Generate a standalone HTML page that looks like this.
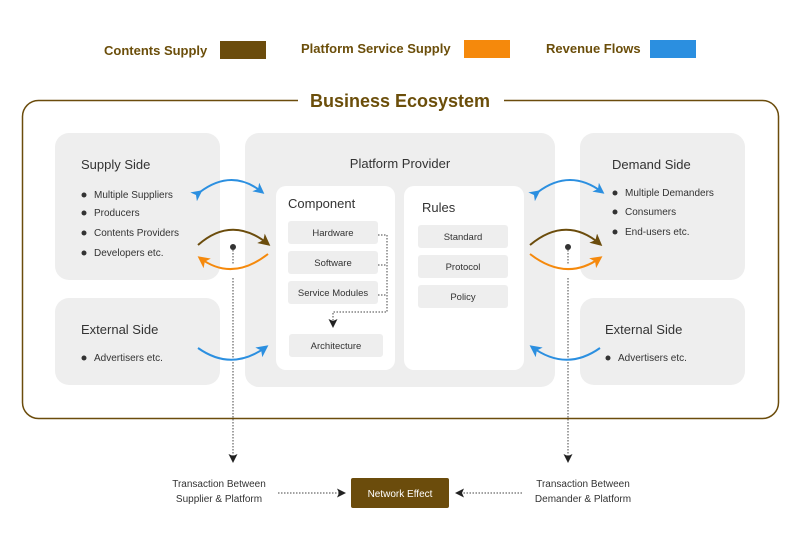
<!DOCTYPE html>
<html><head><style>
body{margin:0;background:#fff}
svg text{font-family:"Liberation Sans",sans-serif}
</style></head><body>
<svg width="800" height="542" xmlns="http://www.w3.org/2000/svg">
<defs>
<marker id="ab" markerWidth="11" markerHeight="11" refX="8" refY="5.5" orient="auto" markerUnits="userSpaceOnUse"><path d="M0,0 L11,5.5 L0,11 L3,5.5z" fill="#2b8fe0"/></marker>
<marker id="ao" markerWidth="12" markerHeight="12" refX="9" refY="6" orient="auto" markerUnits="userSpaceOnUse"><path d="M0,0 L12,6 L0,12 L3,6z" fill="#f5890c"/></marker>
<marker id="abr" markerWidth="12" markerHeight="12" refX="9" refY="6" orient="auto" markerUnits="userSpaceOnUse"><path d="M0,0 L12,6 L0,12 L3,6z" fill="#6b4c0c"/></marker>
<marker id="abl" markerWidth="12" markerHeight="12" refX="9" refY="6" orient="auto" markerUnits="userSpaceOnUse"><path d="M0,0 L12,6 L0,12 L3,6z" fill="#2b8fe0"/></marker>
<marker id="ak" markerWidth="9" markerHeight="9" refX="7" refY="4.5" orient="auto" markerUnits="userSpaceOnUse"><path d="M0,0 L9,4.5 L0,9 L2,4.5z" fill="#222"/></marker>
</defs>
<g font-size="13" fill="#6b4e0a" font-weight="600">
<text x="104" y="55">Contents Supply</text>
<text x="301" y="53">Platform Service Supply</text>
<text x="546" y="53">Revenue Flows</text>
</g>
<rect x="220" y="41" width="46" height="18" fill="#6b4c0c"/>
<rect x="464" y="40" width="46" height="18" fill="#f5890c"/>
<rect x="650" y="40" width="46" height="18" fill="#2b8fe0"/>
<rect x="22.5" y="100.5" width="756" height="318" rx="16" fill="none" stroke="#6b4c0c" stroke-width="1.5"/>
<rect x="298" y="90" width="206" height="22" fill="#fff"/>
<text x="400" y="107" font-size="18" font-weight="600" fill="#6b4e0a" text-anchor="middle">Business Ecosystem</text>
<g fill="#eeeeee">
<rect x="55" y="133" width="165" height="147" rx="14"/>
<rect x="55" y="298" width="165" height="87" rx="14"/>
<rect x="245" y="133" width="310" height="254" rx="14"/>
<rect x="580" y="133" width="165" height="147" rx="14"/>
<rect x="580" y="298" width="165" height="87" rx="14"/>
</g>
<g fill="#fff"><rect x="276" y="186" width="119" height="184" rx="10"/><rect x="404" y="186" width="120" height="184" rx="10"/></g>
<g font-size="13" fill="#333">
<text x="81" y="169">Supply Side</text>
<text x="81" y="334">External Side</text>
<text x="400" y="168" text-anchor="middle">Platform Provider</text>
<text x="612" y="169">Demand Side</text>
<text x="605" y="334">External Side</text>
<text x="288" y="208">Component</text>
<text x="422" y="212">Rules</text>
</g>
<g font-size="10" fill="#333">
<circle cx="84" cy="195" r="2.5"/><text x="94" y="198">Multiple Suppliers</text>
<circle cx="84" cy="213" r="2.5"/><text x="94" y="216">Producers</text>
<circle cx="84" cy="233" r="2.5"/><text x="94" y="236">Contents Providers</text>
<circle cx="84" cy="253" r="2.5"/><text x="94" y="256">Developers etc.</text>
<circle cx="84" cy="358" r="2.5"/><text x="94" y="361">Advertisers etc.</text>
<circle cx="615" cy="193" r="2.5"/><text x="625" y="196">Multiple Demanders</text>
<circle cx="615" cy="212" r="2.5"/><text x="625" y="215">Consumers</text>
<circle cx="615" cy="232" r="2.5"/><text x="625" y="235">End-users etc.</text>
<circle cx="608" cy="358" r="2.5"/><text x="618" y="361">Advertisers etc.</text>
</g>
<g fill="#eeeeee">
<rect x="288" y="221" width="90" height="23" rx="3"/><rect x="288" y="251" width="90" height="23" rx="3"/><rect x="288" y="281" width="90" height="23" rx="3"/>
<rect x="289" y="334" width="94" height="23" rx="3"/>
<rect x="418" y="225" width="90" height="23" rx="3"/><rect x="418" y="255" width="90" height="23" rx="3"/><rect x="418" y="285" width="90" height="23" rx="3"/>
</g>
<g font-size="9.5" fill="#333" text-anchor="middle">
<text x="333" y="236">Hardware</text><text x="333" y="266">Software</text><text x="333" y="296">Service Modules</text>
<text x="336" y="349">Architecture</text>
<text x="463" y="240">Standard</text><text x="463" y="270">Protocol</text><text x="463" y="300">Policy</text>
</g>
<g stroke="#444" stroke-dasharray="1.5,1.5" fill="none" stroke-width="1">
<path d="M378,235 H387 V312 H333 V326" marker-end="url(#ak)"/>
<path d="M378,265 H387 M378,295 H387"/>
<path d="M233,247 V265 M233,278 V461" marker-end="url(#ak)"/>
<path d="M568,247 V265 M568,278 V461" marker-end="url(#ak)"/>
<path d="M278,493 H344" marker-end="url(#ak)"/>
<path d="M522,493 H457" marker-end="url(#ak)"/>
</g>
<circle cx="233" cy="247" r="3" fill="#333"/><circle cx="568" cy="247" r="3" fill="#333"/>
<g fill="none" stroke-width="2">
<path d="M200,192 Q232,168 262,192" stroke="#2b8fe0" marker-end="url(#ab)" marker-start="url(#ab)"/>
<path d="M538,192 Q570,168 602,192" stroke="#2b8fe0" marker-end="url(#ab)" marker-start="url(#ab)"/>
<path d="M198,245 Q232,215 268,244" stroke="#6b4c0c" marker-end="url(#abr)"/>
<path d="M268,254 Q232,282 200,258" stroke="#f5890c" marker-end="url(#ao)"/>
<path d="M530,245 Q566,215 600,244" stroke="#6b4c0c" marker-end="url(#abr)"/>
<path d="M530,254 Q566,282 600,258" stroke="#f5890c" marker-end="url(#ao)"/>
<path d="M198,348 Q232,372 266,347" stroke="#2b8fe0" marker-end="url(#abl)"/>
<path d="M600,348 Q566,372 532,347" stroke="#2b8fe0" marker-end="url(#abl)"/>
</g>
<g font-size="10" fill="#333" text-anchor="middle">
<text x="219" y="487">Transaction Between</text><text x="219" y="502">Supplier &amp; Platform</text>
<text x="583" y="487">Transaction Between</text><text x="583" y="502">Demander &amp; Platform</text>
</g>
<rect x="351" y="478" width="98" height="30" rx="2" fill="#6b4c0c"/>
<text x="400" y="497" font-size="10" fill="#fff" text-anchor="middle">Network Effect</text>
</svg>
</body></html>
